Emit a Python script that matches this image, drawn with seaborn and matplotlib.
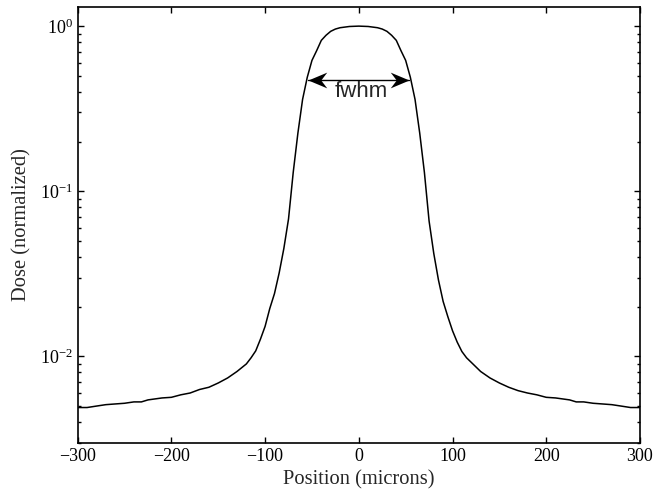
import numpy as np
import pandas as pd
import matplotlib
matplotlib.use("Agg")
import matplotlib.pyplot as plt
from matplotlib.path import Path
import seaborn as sns

# Data (position in microns, normalized dose)
position = [-300, -290, -280, -270, -260, -250, -240, -232, -225, -210, -200,
            -190, -180, -170, -160, -150, -140, -130, -120, -115, -110, -105,
            -100, -95, -90, -85, -80, -75, -70, -65, -60, -55, -50, -45, -40,
            -35, -30, -25, -20, -10, 0, 10, 20, 25, 30, 35, 40, 45, 50, 55,
            60, 65, 70, 75, 80, 85, 90, 95, 100, 105, 110, 115, 120, 130, 140,
            150, 160, 170, 180, 190, 200, 210, 225, 232, 240, 250, 260, 270,
            280, 290, 300]
dose = [0.0049, 0.0049, 0.0050, 0.0051, 0.00515, 0.0052, 0.0053, 0.0053,
        0.00545, 0.0056, 0.00565, 0.00585, 0.0060, 0.0063, 0.0065, 0.0069,
        0.0074, 0.0081, 0.0090, 0.0098, 0.0108, 0.0127, 0.0152, 0.0195,
        0.024, 0.032, 0.045, 0.068, 0.13, 0.225, 0.36, 0.49, 0.62, 0.71,
        0.82, 0.88, 0.93, 0.96, 0.978, 0.995, 1.0, 0.995, 0.978, 0.96, 0.93,
        0.88, 0.82, 0.71, 0.62, 0.49, 0.36, 0.225, 0.13, 0.066, 0.042, 0.029,
        0.0215, 0.0174, 0.0143, 0.0122, 0.0107, 0.0098, 0.0092, 0.0081,
        0.0074, 0.0069, 0.0065, 0.0062, 0.0060, 0.00585, 0.00565, 0.0056,
        0.00545, 0.0053, 0.0053, 0.0052, 0.00515, 0.0051, 0.0050, 0.0049,
        0.0049]
fwhm_left, fwhm_right, fwhm_level = -54.5, 53.5, 0.475
xticks = [-300, -200, -100, 0, 100, 200, 300]

df = pd.DataFrame({"Position": position, "Dose": dose})

sns.set_style("ticks")
plt.rcParams['font.family'] = ['Liberation Serif', 'DejaVu Serif']
plt.rcParams['mathtext.fontset'] = 'stix'

fig = plt.figure(figsize=(6.55, 5.04), dpi=100)
ax = fig.add_axes([0.1186, 0.1216, 0.977 - 0.1186, 0.9855 - 0.1216])

sns.lineplot(data=df, x="Position", y="Dose", ax=ax, color="black",
             linewidth=1.1, sort=False)

ax.set_yscale("log")
ax.set_xlim(-300, 300)
ax.set_ylim(0.003, 1.3)
ax.set_xticks(xticks)
ax.set_xticklabels(["\u2212300", "\u2212200", "\u2212100", "0", "100", "200", "300"])

for s in ax.spines.values():
    s.set_visible(True)
    s.set_linewidth(1.2)
    s.set_color("black")

ax.tick_params(axis="both", which="both", direction="in", top=True, right=True,
               colors="black", labelsize=13, width=1.0)
ax.tick_params(axis="both", which="major", length=4)
ax.tick_params(axis="both", which="minor", length=2.5)
ax.tick_params(axis="x", which="minor", bottom=False, top=False)

ax.set_xlabel("Position (microns)", fontsize=14.8, labelpad=4)
ax.set_ylabel("Dose (normalized)", fontsize=14.8, labelpad=6)

# fwhm double arrow with concave (MATLAB-like) heads
head_left = Path([(0, 0), (1, 0.42), (0.68, 0), (1, -0.42), (0, 0)],
                 [Path.MOVETO, Path.LINETO, Path.LINETO, Path.LINETO, Path.CLOSEPOLY])
head_right = Path([(0, 0), (-1, 0.42), (-0.68, 0), (-1, -0.42), (0, 0)],
                  [Path.MOVETO, Path.LINETO, Path.LINETO, Path.LINETO, Path.CLOSEPOLY])
ax.plot([fwhm_left, fwhm_right], [fwhm_level, fwhm_level], color="black", lw=1.0)
ax.plot([fwhm_left], [fwhm_level], marker=head_left, markersize=27,
        color="black", markeredgewidth=0, linestyle="none")
ax.plot([fwhm_right], [fwhm_level], marker=head_right, markersize=27,
        color="black", markeredgewidth=0, linestyle="none")
ax.text(2.5, 0.40, "fwhm", ha="center", va="center", fontsize=16,
        family=["Liberation Sans", "DejaVu Sans"])

fig.savefig("out.png", dpi=100)
